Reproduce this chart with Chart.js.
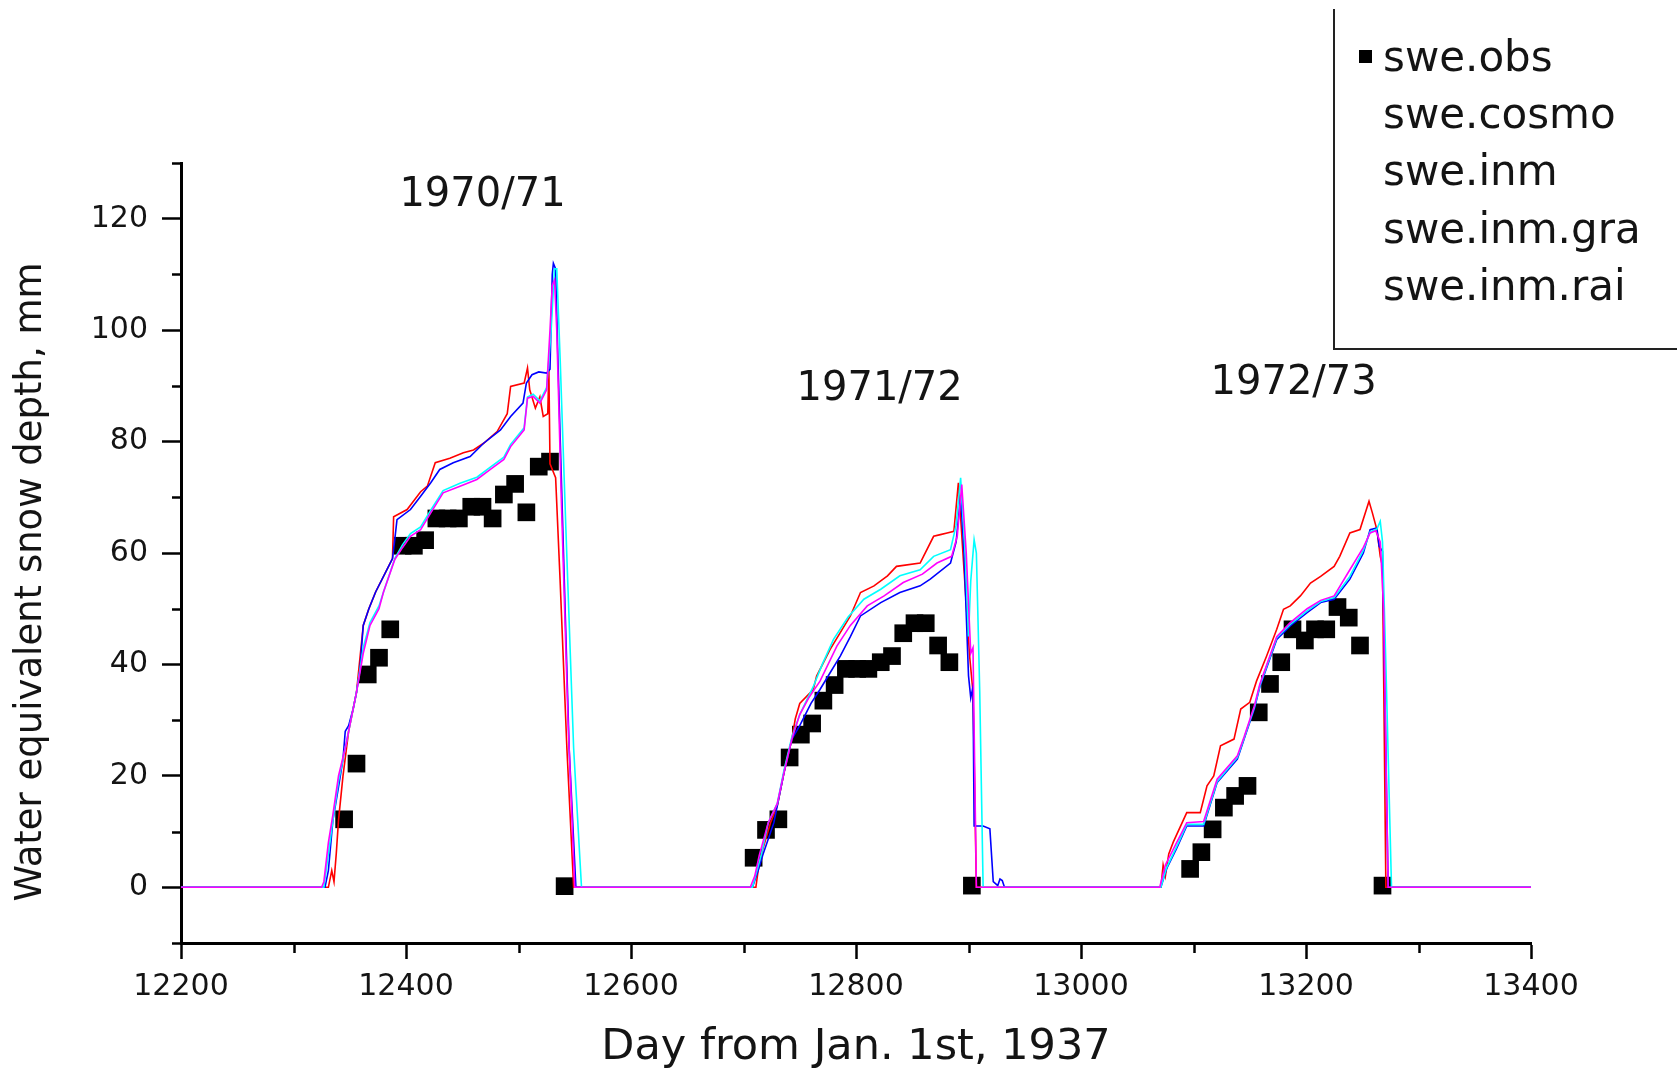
<!DOCTYPE html>
<html><head><meta charset="utf-8">
<script src="https://cdn.jsdelivr.net/npm/chart.js@4.4.1/dist/chart.umd.min.js"></script>
<style>html,body{margin:0;padding:0;background:#fff;overflow:hidden}#wrap{width:1677px;height:1069px}</style>
</head><body><div id="wrap"><canvas id="c" width="1677" height="1069"></canvas></div>
<script>
// ---- data ----
const seriesNames = ['swe.obs', 'swe.cosmo', 'swe.inm', 'swe.inm.gra', 'swe.inm.rai'];
const seriesColors = ['#000000', '#ff0000', '#0000ff', '#00ffff', '#ff00ff'];
const xTickLabels = [12200, 12400, 12600, 12800, 13000, 13200, 13400];
const yTickLabels = [0, 20, 40, 60, 80, 100, 120];
const xTitle = 'Day from Jan. 1st, 1937';
const yTitle = 'Water equivalent snow depth, mm';
const seasonLabels = ['1970/71', '1971/72', '1972/73'];
const seasonLabelDays = [12468, 12821, 13189];
const seasonLabelValues = [124.1, 89.4, 90.4];

const sweObs = [[12345,12.2],[12356,22.2],[12366,38.2],[12376,41.2],[12386,46.3],[12397,61.3],[12407,61.3],[12417,62.3],[12427,66.2],[12437,66.2],[12447,66.2],[12458,68.3],[12468,68.3],[12477,66.2],[12487,70.5],[12497,72.4],[12507,67.3],[12518,75.5],[12528,76.4],[12541,0.2],
[12709,5.3],[12720,10.3],[12731,12.2],[12741,23.3],[12751,27.4],[12761,29.4],[12771,33.5],[12781,36.3],[12791,39.2],[12801,39.2],[12811,39.2],[12822,40.4],[12832,41.5],[12842,45.6],[12852,47.4],[12862,47.4],[12873,43.4],[12883,40.4],[12903,0.3],
[13097,3.3],[13107,6.3],[13117,10.4],[13127,14.3],[13137,16.4],[13148,18.2],[13158,31.4],[13168,36.5],[13178,40.4],[13188,46.3],[13199,44.3],[13208,46.3],[13218,46.3],[13228,50.3],[13238,48.4],[13248,43.4],[13268,0.3]];

const sweCosmo = [[12200,0],[12331,0],[12334,3],[12336,1],[12338,6],[12340,12],[12344,20],[12349,28],[12356,35],[12362,47],[12367,50],[12373,53],[12388,59],[12389,66.5],[12401,67.8],[12413,71],[12419,72],[12426,76.2],[12439,77],[12451,78],[12460,78.5],[12469,79.7],[12481,81.8],[12490,85],[12493,89.9],[12505,90.5],[12508,93.2],[12510,89.3],[12515,86],[12519,88],[12522,84.5],[12526,85],[12527,93],[12528,76],[12533,73.5],[12537,55],[12543,25],[12549,0],
[12711,0],[12713,3],[12716,6],[12724,11.6],[12730,14.6],[12736,20.6],[12743,26.6],[12746,30.2],[12750,33],[12762,35.5],[12765,37.9],[12777,42.7],[12786,45.7],[12795,48.7],[12804,52.9],[12816,54.1],[12828,55.9],[12836,57.6],[12857,58.2],[12860,59.4],[12869,63],[12875,63.3],[12881,63.6],[12887,63.9],[12891,72.6],[12896,57],[12901,41.5],[12904,35],[12907,0],
[13071,0],[13073,4],[13075,2],[13078,6],[13082,8.1],[13094,13.4],[13106,13.4],[13112,18.2],[13118,20],[13124,25.4],[13136,26.6],[13142,32],[13150,33.2],[13156,37],[13165,41.5],[13174,46.3],[13180,49.9],[13186,50.5],[13195,52.3],[13204,54.6],[13213,55.8],[13225,57.6],[13230,59.4],[13239,63.6],[13248,64.2],[13256,69.3],[13259,67.2],[13263,64.2],[13266,59.4],[13268,57.6],[13271,0],[13400,0]];

const sweInm = [[12200,0],[12328,0],[12331,3],[12335,12],[12340,18],[12344,23],[12346,28],[12349,29],[12353,32],[12356,35],[12359,39],[12362,47],[12367,50],[12373,53],[12388,59],[12390,62.4],[12392,66],[12404,67.8],[12413,70.2],[12422,72.6],[12430,75],[12442,76.2],[12457,77.3],[12469,79.7],[12484,82.1],[12493,84.5],[12504,86.9],[12507,90.5],[12512,92],[12518,92.5],[12525,92.3],[12528,93],[12530,110],[12531,112],[12533,111],[12535,95],[12540,60],[12545,25],[12551,0],
[12708,0],[12713,3],[12717,5.7],[12727,11.6],[12730,14.6],[12736,20.6],[12743,26.6],[12750,29],[12760,33],[12768,35.5],[12777,38.5],[12786,41.5],[12795,45],[12804,48.7],[12822,51.1],[12839,52.9],[12857,54.1],[12866,55.3],[12884,58.2],[12889,62],[12893,70.2],[12896,60],[12900,38],[12902,34],[12904,36],[12905,11],[12913,11],[12919,10.5],[12922,1],[12926,0.3],[12928,1.5],[12930,1.2],[12932,0],
[13071,0],[13076,3.3],[13085,7],[13094,11],[13109,11],[13121,18.8],[13139,23],[13145,26.6],[13154,32],[13159,36],[13174,44.5],[13186,46.9],[13201,49.3],[13213,51.1],[13225,51.7],[13239,55.3],[13251,60],[13257,64.2],[13263,64.5],[13265,61.2],[13268,60.3],[13273,0],[13400,0]];

const sweInmGra = [[12200,0],[12327,0],[12331,6],[12335,12],[12340,19],[12346,25],[12352,31],[12356,35],[12362,43],[12368,47.5],[12376,50.5],[12380,53],[12390,59],[12397,61.5],[12404,63.5],[12413,64.7],[12422,67.7],[12433,71.2],[12448,72.5],[12463,73.6],[12475,75.4],[12487,77.2],[12493,79.5],[12505,82.5],[12508,88],[12513,88.5],[12519,87.3],[12525,89.7],[12529,100],[12532,111],[12534,111],[12537,95],[12542,65],[12549,25],[12556,0],
[12708,0],[12712,3],[12716,6],[12722,11.6],[12730,15],[12736,21],[12743,27],[12750,31],[12762,36],[12770,40],[12780,44.5],[12793,48.5],[12807,51.7],[12822,53.5],[12839,55.9],[12857,57],[12869,59.4],[12884,60.6],[12889,65],[12893,73.5],[12897,60],[12900,45],[12902,55],[12905,62.4],[12907,60],[12910,35],[12913,0],
[13071,0],[13076,3.5],[13085,7.3],[13094,11.3],[13109,11.3],[13121,19],[13139,23.3],[13145,26.8],[13154,32.2],[13159,36.2],[13174,44.8],[13186,47.2],[13201,49.6],[13213,51.3],[13225,52],[13239,55.8],[13251,60.5],[13257,63.8],[13263,64.3],[13266,65.7],[13268,62],[13271,40],[13276,0],[13400,0]];

const sweInmRai = [[12200,0],[12325,0],[12327,1],[12331,8],[12335,13],[12340,20],[12346,25],[12352,31],[12356,35],[12362,42],[12368,47],[12376,50],[12380,53],[12390,58.8],[12397,61],[12404,63],[12413,64.2],[12422,67.2],[12433,70.8],[12448,72],[12463,73.2],[12475,75],[12487,76.8],[12493,79.1],[12505,82.1],[12508,87.8],[12513,88.1],[12519,86.9],[12525,89.3],[12528,100],[12530,108],[12532,109],[12534,100],[12538,70],[12544,30],[12550,0],
[12706,0],[12710,2],[12714,5.7],[12722,11.6],[12730,15],[12736,20.6],[12743,26.6],[12750,31],[12758,34],[12768,37],[12783,43.3],[12795,47],[12810,50.5],[12825,52.3],[12842,54.7],[12859,56.2],[12872,58.2],[12885,59.4],[12890,63],[12894,72.3],[12898,60],[12902,42],[12904,43],[12907,0],
[13070,0],[13075,4],[13085,8],[13094,11.6],[13109,11.8],[13121,19.4],[13139,23.6],[13145,27],[13154,32.5],[13159,36.5],[13174,45],[13186,47.5],[13201,50],[13213,51.5],[13225,52.3],[13239,57],[13251,61],[13257,63.6],[13262,64],[13266,62],[13269,50],[13273,0],[13400,0]];

// ---- chart ----
const FONT = '"DejaVu Sans", "Liberation Sans", Arial, sans-serif';
const TEXT = '#141414';
const toXY = arr => arr.map(([x, y]) => ({x, y}));
const lineSeries = [sweCosmo, sweInm, sweInmGra, sweInmRai];

const datasets = [{
  label: seriesNames[0], data: toXY(sweObs), showLine: false,
  pointStyle: 'rect', pointRadius: 12.5, pointHoverRadius: 12.5,
  backgroundColor: seriesColors[0], borderColor: seriesColors[0], borderWidth: 0, order: 5
}];
lineSeries.forEach((s, i) => datasets.push({
  label: seriesNames[i + 1], data: toXY(s), showLine: true, tension: 0,
  borderColor: seriesColors[i + 1], backgroundColor: seriesColors[i + 1],
  borderWidth: 1.6, pointRadius: 0, pointHoverRadius: 0, order: 4 - i
}));

const decor = {
  id: 'decor',
  afterDraw(chart) {
    const ctx = chart.ctx, xs = chart.scales.x, ys = chart.scales.y, a = chart.chartArea;
    ctx.save();
    // minor ticks
    ctx.strokeStyle = '#000'; ctx.lineWidth = 2.5;
    ys.ticks.forEach(t => {
      if (!yTickLabels.includes(t.value)) {
        const p = Math.round(ys.getPixelForValue(t.value)) + 0.5;
        ctx.beginPath(); ctx.moveTo(a.left - 9, p); ctx.lineTo(a.left, p); ctx.stroke();
      }
    });
    xs.ticks.forEach(t => {
      if (!xTickLabels.includes(t.value)) {
        const p = Math.round(xs.getPixelForValue(t.value)) + 0.5;
        ctx.beginPath(); ctx.moveTo(p, a.bottom); ctx.lineTo(p, a.bottom + 10); ctx.stroke();
      }
    });
    // season annotations
    ctx.fillStyle = TEXT; ctx.font = '40px ' + FONT;
    ctx.textAlign = 'center'; ctx.textBaseline = 'middle';
    seasonLabels.forEach((s, i) => {
      ctx.fillText(s, xs.getPixelForValue(seasonLabelDays[i]), ys.getPixelForValue(seasonLabelValues[i]));
    });
    // y title
    ctx.save();
    ctx.translate(31, 582); ctx.rotate(-Math.PI / 2);
    ctx.font = '37px ' + FONT; ctx.textAlign = 'center'; ctx.textBaseline = 'middle';
    ctx.fillText(yTitle, 0, 0);
    ctx.restore();
    // legend box
    ctx.strokeStyle = '#222'; ctx.lineWidth = 2;
    ctx.beginPath(); ctx.moveTo(1334, 9); ctx.lineTo(1334, 349); ctx.lineTo(1680, 349); ctx.stroke();
    ctx.font = '42px ' + FONT; ctx.textAlign = 'left'; ctx.textBaseline = 'alphabetic';
    chart.data.datasets.forEach((d, i) => {
      const base = 71 + 57.2 * i;
      if (!d.showLine) { ctx.fillStyle = d.backgroundColor; ctx.fillRect(1359, 50, 13, 13); }
      ctx.fillStyle = TEXT;
      ctx.fillText(d.label, 1383, base);
    });
    ctx.restore();
  }
};

new Chart(document.getElementById('c'), {
  type: 'scatter',
  data: { datasets },
  plugins: [decor],
  options: {
    responsive: false, animation: false, devicePixelRatio: 1,
    layout: { padding: { top: 163, right: 146, left: 0, bottom: 0 } },
    plugins: { legend: { display: false }, tooltip: { enabled: false } },
    scales: {
      x: {
        type: 'linear', position: 'bottom', min: 12200, max: 13400,
        afterFit: s => { s.height = 126; },
        border: { display: true, color: '#000', width: 3 },
        grid: { drawOnChartArea: false, drawTicks: true, tickLength: 16, tickWidth: 2.5,
                tickColor: c => xTickLabels.includes(c.tick.value) ? '#000' : 'rgba(0,0,0,0)' },
        ticks: { stepSize: 100, autoSkip: false, maxRotation: 0, padding: 10, color: TEXT,
                 font: { family: FONT, size: 30 },
                 callback: v => xTickLabels.includes(v) ? String(v) : '' },
        title: { display: true, text: xTitle, color: TEXT,
                 font: { family: FONT, size: 43, lineHeight: 1 }, padding: { top: 0, bottom: 0 } }
      },
      y: {
        type: 'linear', position: 'left', min: -10, max: 130,
        afterFit: s => { s.width = 181; },
        border: { display: true, color: '#000', width: 3 },
        grid: { drawOnChartArea: false, drawTicks: true, tickLength: 19, tickWidth: 2.5,
                tickColor: c => yTickLabels.includes(c.tick.value) ? '#000' : 'rgba(0,0,0,0)' },
        ticks: { stepSize: 10, autoSkip: false, padding: 14, color: TEXT,
                 font: { family: FONT, size: 30 },
                 callback: v => yTickLabels.includes(v) ? String(v) : '' }
      }
    }
  }
});
</script></body></html>
